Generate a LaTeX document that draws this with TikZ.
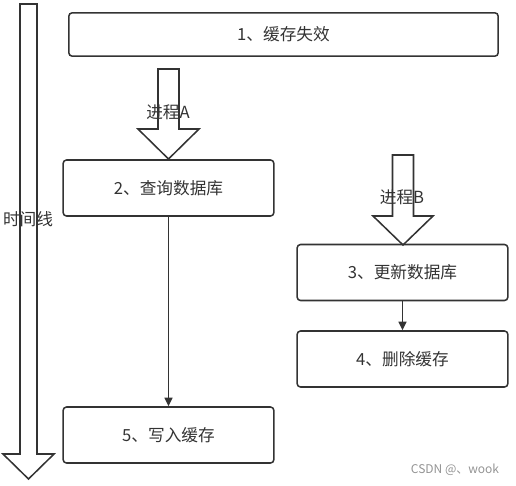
\documentclass[tikz,border=0pt]{standalone}
\usepackage{fontspec}
\setmainfont{Noto Sans CJK SC}
\usetikzlibrary{arrows.meta}

\definecolor{linie}{HTML}{333333}

\begin{document}
\begin{tikzpicture}[x=0.75pt,y=-0.75pt,
  every node/.style={text=linie,font=\fontsize{12.5}{14}\selectfont},
  kasten/.style={draw=linie,line width=1.15pt,rounded corners=2.5pt,minimum width=158pt,minimum height=42pt},
  pfeil/.style={draw=linie,line width=1.15pt,-{Triangle[length=6.5pt,width=6pt]}}]
\useasboundingbox (0,0) rectangle (516,485);
% block arrow: x, top, head start, tip, half shaft, half head
\def\blockpfeil#1#2#3#4#5#6{\draw[linie,line width=1.15pt,line join=miter] (#1-#5,#2) -- (#1+#5,#2) -- (#1+#5,#3) -- (#1+#6,#3) -- (#1,#4) -- (#1-#6,#3) -- (#1-#5,#3) -- cycle;}

\blockpfeil{28.5}{4}{454}{479}{8.5}{25.5}
\blockpfeil{168.5}{69}{129}{159}{10.5}{30.5}
\blockpfeil{403}{155}{216}{245}{10.5}{30}

\node[kasten,minimum width=322pt,minimum height=32.5pt] at (283.5,34.5) (cache) {1、缓存失效};
\node[kasten] at (168.5,188) (query) {2、查询数据库};
\node[kasten] at (402.5,272.5) (update) {3、更新数据库};
\node[kasten] at (402.5,359) (delete) {4、删除缓存};
\node[kasten] at (168.5,435) (write) {5、写入缓存};

\node at (168,112) (procA) {进程A};
\node at (402,197) (procB) {进程B};
\node at (28,219) (time) {时间线};
\node[text=gray!85,font=\fontsize{9}{10}\selectfont] at (455,470) (mark) {CSDN @、wook};

\draw[pfeil] (query) -- (write);
\draw[pfeil] (update) -- (delete);
\end{tikzpicture}
\end{document}
